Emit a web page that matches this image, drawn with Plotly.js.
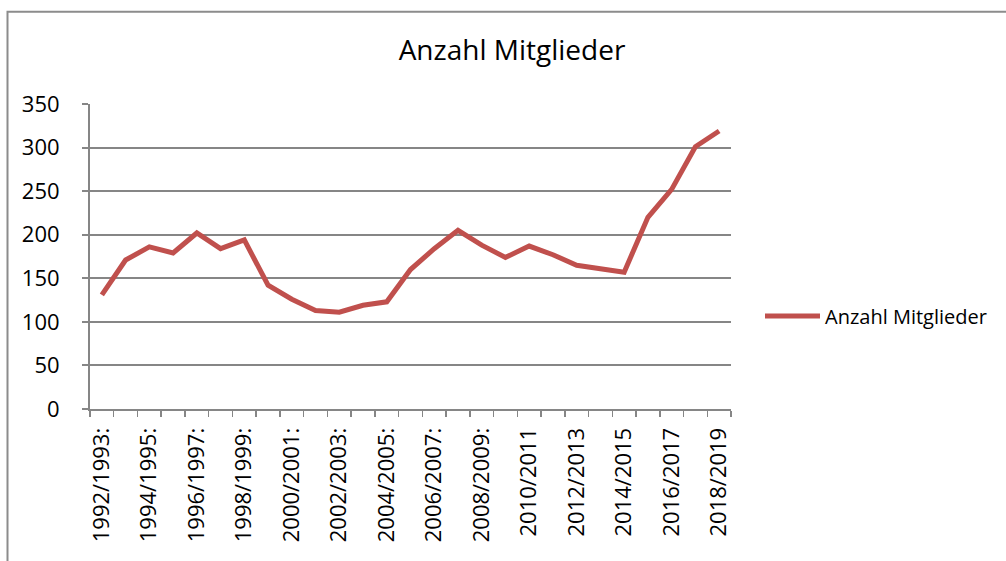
<!DOCTYPE html>
<html>
<head>
<meta charset="utf-8">
<script src="https://cdn.plot.ly/plotly-3.0.1.min.js"></script>
<style>
  html, body { margin: 0; padding: 0; background: #fff; }
  #chart { width: 1006px; height: 561px; }
</style>
</head>
<body>
<div id="chart"></div>
<script>
const categories = [
  "1992/1993:", "1993/1994:", "1994/1995:", "1995/1996:", "1996/1997:", "1997/1998:",
  "1998/1999:", "1999/2000:", "2000/2001:", "2001/2002:", "2002/2003:", "2003/2004:",
  "2004/2005:", "2005/2006:", "2006/2007:", "2007/2008:", "2008/2009:", "2009/2010:",
  "2010/2011", "2011/2012", "2012/2013", "2013/2014", "2014/2015", "2015/2016",
  "2016/2017", "2017/2018", "2018/2019"
];
const members = [
  131, 171, 186, 179, 202, 184, 194, 142, 126, 113, 111, 119, 123, 160,
  184, 205, 188, 174, 187, 177, 165, 161, 157, 220, 252, 301, 319
];
const seriesName = "Anzahl Mitglieder";
const chartTitle = "Anzahl Mitglieder";
const yTicks = [0, 50, 100, 150, 200, 250, 300, 350];

const tickText = categories.map((c, i) => (i % 2 === 0 ? c : ""));

const W = 1006, H = 561;
const plotL = 90, plotR = 731, plotT = 103.5, plotB = 409.5;
const pw = plotR - plotL, ph = plotB - plotT;
const px = v => (v - plotL) / pw;
const py = v => (plotB - v) / ph;

const gray = "#868686";
const font = "Open Sans, sans-serif";

const trace = {
  type: "scatter",
  mode: "lines",
  x: categories,
  y: members,
  name: seriesName,
  line: { color: "#C0504D", width: 5, shape: "linear" },
  hoverinfo: "x+y"
};

const layout = {
  width: W,
  height: H,
  paper_bgcolor: "#ffffff",
  plot_bgcolor: "#ffffff",
  margin: { l: plotL, r: W - plotR, t: plotT, b: H - plotB, pad: 0 },
  font: { family: font, color: "#000000" },
  title: {
    text: chartTitle,
    font: { family: font, size: 28, color: "#000000" },
    xref: "container", yref: "container",
    x: 512 / W, xanchor: "center",
    y: 1 - 50 / H, yanchor: "middle"
  },
  showlegend: true,
  legend: {
    xref: "container", yref: "container",
    x: 760 / W, xanchor: "left",
    y: 1 - 316 / H, yanchor: "middle",
    itemwidth: 55,
    font: { family: font, size: 20, color: "#000000" },
    bgcolor: "rgba(0,0,0,0)"
  },
  xaxis: {
    type: "category",
    tickmode: "array",
    tickvals: categories,
    ticktext: tickText,
    tickson: "boundaries",
    ticks: "outside",
    ticklen: 6,
    tickwidth: 1.5,
    tickcolor: gray,
    tickangle: -90,
    ticklabelstandoff: 8,
    tickfont: { family: font, size: 22, color: "#000000" },
    showline: true,
    linecolor: gray,
    linewidth: 2,
    showgrid: false,
    zeroline: false,
    range: [-0.5, categories.length - 0.5],
    fixedrange: true
  },
  yaxis: {
    range: [0, 350],
    tickmode: "array",
    tickvals: yTicks,
    ticktext: yTicks.map(String),
    ticks: "outside",
    ticklen: 6,
    tickwidth: 2,
    tickcolor: gray,
    ticklabelstandoff: 18,
    tickfont: { family: font, size: 22, color: "#000000" },
    showline: true,
    linecolor: gray,
    linewidth: 2,
    showgrid: true,
    gridcolor: gray,
    gridwidth: 2,
    zeroline: false,
    fixedrange: true
  },
  shapes: [
    {
      type: "rect",
      xref: "paper", yref: "paper",
      x0: px(7.5), x1: px(1020),
      y0: py(580), y1: py(11),
      line: { color: "#8c8c8c", width: 2 },
      fillcolor: "rgba(0,0,0,0)",
      layer: "below"
    }
  ]
};

Plotly.newPlot("chart", [trace], layout, { displayModeBar: false, staticPlot: true });
</script>
</body>
</html>
